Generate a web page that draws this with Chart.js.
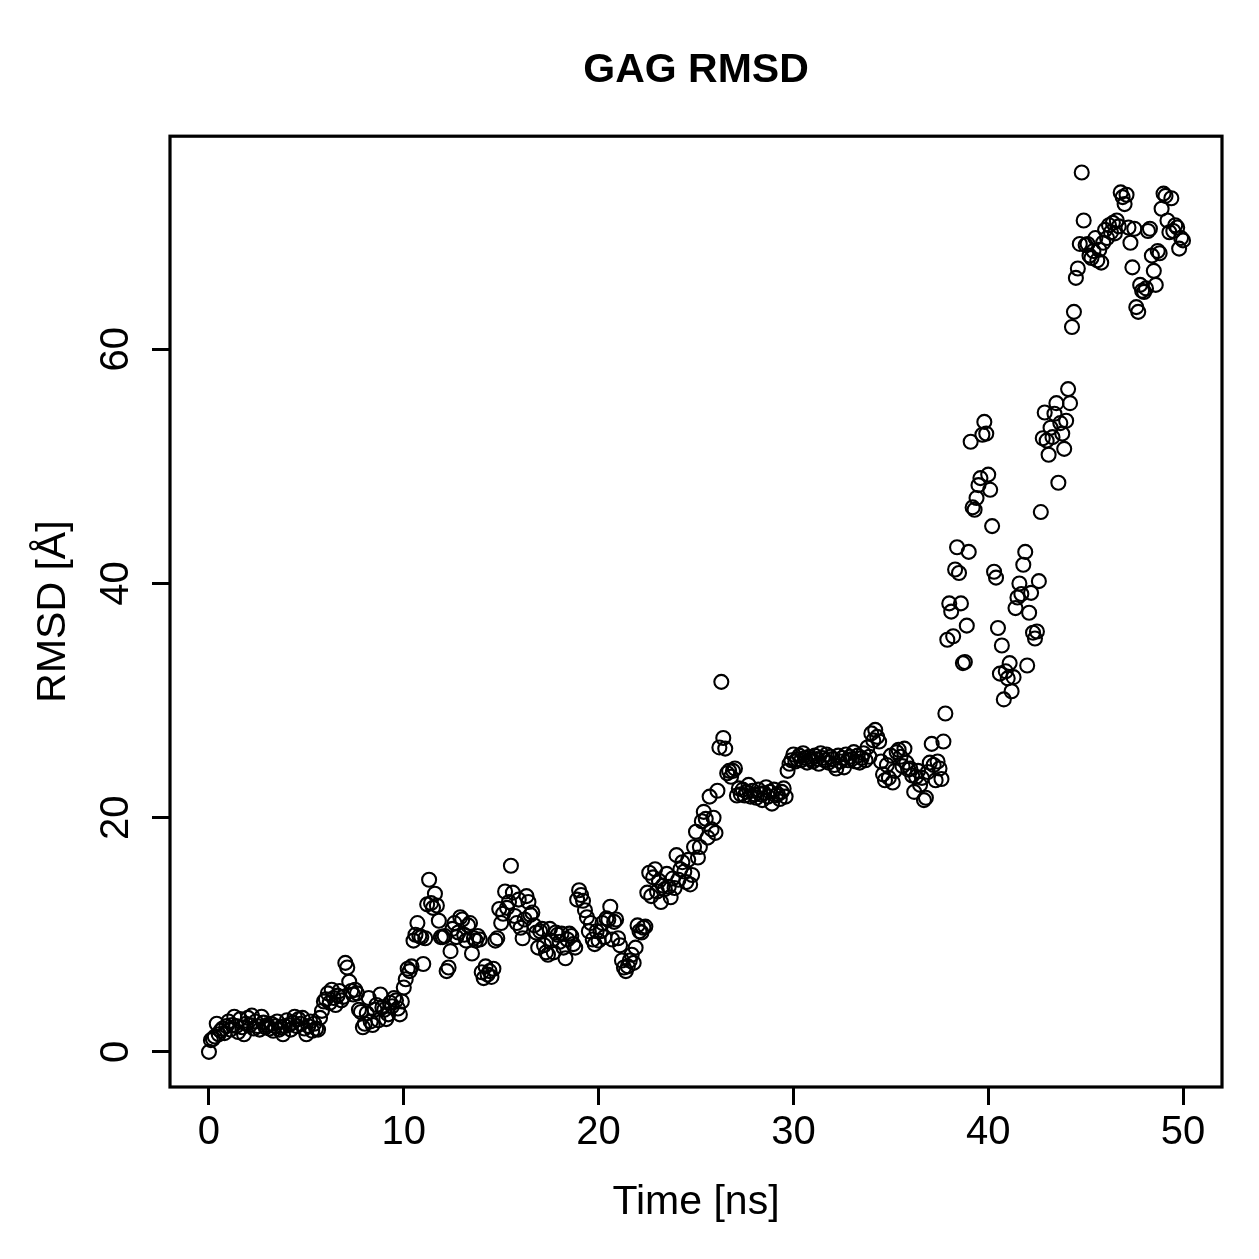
<!DOCTYPE html>
<html>
<head>
<meta charset="utf-8">
<script src="https://cdn.jsdelivr.net/npm/chart.js@4/dist/chart.umd.min.js"></script>
<style>
  html, body { margin: 0; padding: 0; background: #fff; }
  canvas { display: block; }
</style>
</head>
<body>
<canvas id="chart" width="1259" height="1259"></canvas>
<script>
// RMSD every 0.1 ns, 0 .. 50 ns (one row per ns)
const timeStep = 0.1;
const rmsd = [
  0.0, 1.0, 1.1, 1.3, 2.4, 1.5, 1.8, 2.0, 1.6, 2.2,
  2.6, 1.9, 2.3, 3.0, 2.2, 1.7, 2.8, 2.1, 1.5, 2.4,
  2.9, 2.3, 3.1, 2.0, 2.6, 2.2, 1.9, 3.0, 2.5, 2.1,
  2.3, 2.0, 2.4, 1.8, 2.2, 2.6, 1.9, 2.1, 1.5, 2.2,
  2.7, 2.3, 1.9, 2.5, 3.0, 2.2, 2.8, 2.4, 2.9, 2.0,
  1.5, 2.2, 2.6, 1.8, 2.4, 2.0, 1.9, 2.9, 3.5, 4.3,
  4.5, 5.0, 4.2, 5.3, 4.6, 4.0, 4.8, 5.2, 4.4, 4.7,
  7.6, 7.2, 6.0, 5.2, 4.9, 5.3, 5.0, 3.6, 3.4, 2.1,
  2.4, 3.3, 4.6, 2.6, 2.3, 3.6, 4.0, 2.7, 4.9, 3.8,
  3.6, 2.8, 3.2, 4.2, 3.9, 4.6, 4.4, 3.7, 3.2, 4.3,
  5.5, 6.2, 7.1, 6.9, 7.3, 9.5, 10.0, 11.0, 9.9, 9.8,
  7.5, 9.7, 12.6, 14.7, 12.7, 12.3, 13.5, 12.5, 11.2, 9.8,
  9.8, 9.9, 6.9, 7.2, 8.6, 10.5, 11.0, 9.8, 10.2, 11.5,
  11.3, 10.0, 9.5, 10.8, 11.0, 8.4, 9.7, 9.5, 9.9, 9.6,
  6.8, 6.3, 7.3, 6.6, 6.9, 6.4, 7.1, 9.5, 9.7, 12.2,
  11.0, 11.8, 13.7, 12.3, 12.8, 15.9, 13.6, 11.6, 11.0, 13.0,
  10.6, 9.7, 11.3, 13.3, 12.8, 11.7, 11.9, 10.8, 10.2, 8.9,
  10.3, 10.5, 9.1, 8.5, 8.3, 10.5, 9.5, 8.5, 10.2, 10.0,
  9.4, 10.1, 8.9, 8.0, 9.6, 10.1, 9.9, 9.2, 8.9, 13.0,
  13.8, 13.4, 12.9, 12.1, 11.5, 10.3, 11.0, 9.6, 9.2, 10.3,
  9.5, 10.3, 11.0, 9.8, 11.4, 11.3, 12.4, 9.6, 11.1, 11.3,
  9.7, 9.1, 7.8, 7.2, 6.9, 7.3, 7.8, 8.3, 7.6, 8.9,
  10.8, 10.3, 10.2, 10.6, 10.7, 13.6, 15.3, 13.3, 14.9, 15.6,
  13.7, 14.6, 12.8, 14.2, 13.9, 15.2, 14.1, 13.2, 14.8, 14.0,
  16.8, 14.7, 15.6, 16.2, 15.4, 14.5, 16.4, 14.3, 15.1, 17.5,
  18.8, 16.6, 17.5, 19.7, 20.5, 19.9, 18.3, 21.8, 19.0, 20.0,
  18.7, 22.3, 26.0, 31.6, 26.8, 25.9, 23.8, 24.0, 23.5, 24.0,
  24.2, 21.9, 22.5, 22.0, 22.4, 21.9, 22.2, 22.8, 21.8, 22.3,
  22.0, 21.7, 22.4, 22.0, 21.5, 22.1, 22.6, 21.8, 22.2, 21.2,
  22.4, 21.9, 22.0, 21.6, 22.2, 22.5, 21.8, 24.0, 24.6, 24.9,
  25.4, 24.8, 25.0, 25.3, 24.9, 25.5, 25.1, 24.7, 25.2, 25.0,
  24.8, 25.3, 25.0, 24.6, 25.5, 25.1, 24.9, 25.4, 24.7, 25.2,
  25.0, 24.5, 24.2, 25.3, 24.8, 25.1, 24.3, 25.4, 24.9, 25.2,
  25.0, 25.6, 24.8, 25.3, 24.7, 25.1, 25.5, 24.9, 26.0, 25.2,
  27.2, 26.6, 27.5, 26.9, 26.5, 24.8, 23.7, 23.2, 24.5, 23.4,
  25.3, 23.0, 24.0, 25.6, 25.8, 25.2, 24.4, 25.9, 24.7, 24.1,
  24.2, 23.6, 22.2, 23.5, 24.0, 22.8, 23.4, 21.5, 21.7, 23.9,
  24.7, 26.3, 24.5, 23.2, 24.8, 24.2, 23.3, 26.5, 28.9, 35.2,
  38.3, 37.6, 35.5, 41.2, 43.1, 40.9, 38.3, 33.2, 33.3, 36.4,
  42.7, 52.1, 46.5, 46.3, 47.3, 48.4, 49.0, 52.7, 53.8, 52.8,
  49.3, 48.0, 44.9, 41.0, 40.5, 36.2, 32.3, 34.7, 30.1, 32.5,
  31.9, 33.2, 30.8, 32.0, 37.9, 38.8, 40.0, 39.1, 41.6, 42.7,
  33.0, 37.5, 39.2, 35.8, 35.3, 35.9, 40.2, 46.1, 52.4, 54.6,
  52.2, 51.0, 53.3, 52.5, 54.5, 55.4, 48.6, 53.7, 52.8, 51.5,
  53.9, 56.6, 55.4, 61.9, 63.2, 66.1, 66.9, 69.0, 75.1, 71.0,
  68.9, 69.0, 68.0, 67.8, 68.4, 69.5, 67.6, 68.5, 67.4, 69.1,
  70.2, 69.5, 70.6, 70.0, 70.8, 69.9, 71.0, 70.5, 73.4, 73.0,
  72.4, 73.2, 70.4, 69.1, 67.0, 70.3, 63.6, 63.2, 65.5, 65.0,
  64.9, 65.2, 70.1, 70.3, 68.0, 66.7, 65.5, 68.4, 68.2, 72.0,
  73.3, 73.1, 71.0, 70.0, 72.9, 70.1, 70.6, 70.4, 68.6, 69.5,
  69.3
];
const xTicks = [0, 10, 20, 30, 40, 50];
const yTicks = [0, 20, 40, 60];

const font = "'Liberation Sans', Arial, Helvetica, sans-serif";
const points = rmsd.map((v, i) => ({ x: +(i * timeStep).toFixed(1), y: v }));

// box around the plot + rotated y tick labels (R style)
const rFrame = {
  id: "rFrame",
  afterDraw(chart) {
    const { ctx, chartArea: a, scales } = chart;
    ctx.save();
    ctx.strokeStyle = "#000";
    ctx.lineWidth = 3.2;
    ctx.strokeRect(a.left, a.top, a.right - a.left, a.bottom - a.top);
    ctx.fillStyle = "#000";
    ctx.font = "40px " + font;
    ctx.textAlign = "center";
    ctx.textBaseline = "middle";
    scales.y.ticks.forEach((t) => {
      const py = scales.y.getPixelForValue(t.value);
      ctx.save();
      ctx.translate(117, py);
      ctx.rotate(-Math.PI / 2);
      ctx.fillText(String(t.value), 0, 0);
      ctx.restore();
    });
    ctx.restore();
  },
};

new Chart(document.getElementById("chart"), {
  type: "scatter",
  data: {
    datasets: [
      {
        data: points,
        pointStyle: "circle",
        pointRadius: 7,
        pointHoverRadius: 7,
        borderWidth: 2.1,
        borderColor: "#000",
        backgroundColor: "rgba(0,0,0,0)",
      },
    ],
  },
  options: {
    responsive: false,
    animation: false,
    devicePixelRatio: 1,
    layout: { padding: { left: 0, right: 37, top: 0, bottom: 0 } },
    plugins: {
      legend: { display: false },
      tooltip: { enabled: false },
      title: {
        display: true,
        fullSize: false,
        text: "GAG RMSD",
        color: "#000",
        font: { family: font, size: 41, weight: "bold", lineHeight: 1.2 },
        padding: { top: 46, bottom: 41 },
      },
    },
    scales: {
      x: {
        type: "linear",
        min: -2,
        max: 52,
        afterBuildTicks: (s) => { s.ticks = xTicks.map((v) => ({ value: v })); },
        afterFit: (s) => { s.height = 172; },
        border: { display: false },
        grid: {
          drawOnChartArea: false,
          drawTicks: true,
          tickLength: 18,
          tickWidth: 3,
          tickColor: "#000",
        },
        ticks: {
          color: "#000",
          padding: 4,
          maxRotation: 0,
          font: { family: font, size: 40 },
        },
        title: {
          display: true,
          text: "Time [ns]",
          color: "#000",
          font: { family: font, size: 41, lineHeight: 1.2 },
          padding: { top: 0, bottom: 32 },
        },
      },
      y: {
        type: "linear",
        min: -3.0,
        max: 78.2,
        afterBuildTicks: (s) => { s.ticks = yTicks.map((v) => ({ value: v })); },
        afterFit: (s) => { s.width = 170; },
        border: { display: false },
        grid: {
          drawOnChartArea: false,
          drawTicks: true,
          tickLength: 18,
          tickWidth: 3,
          tickColor: "#000",
        },
        ticks: { display: false },
        title: {
          display: true,
          text: "RMSD [Å]",
          color: "#000",
          font: { family: font, size: 41, lineHeight: 1.2 },
          padding: { top: 29, bottom: 0 },
        },
      },
    },
  },
  plugins: [rFrame],
});
</script>
</body>
</html>
